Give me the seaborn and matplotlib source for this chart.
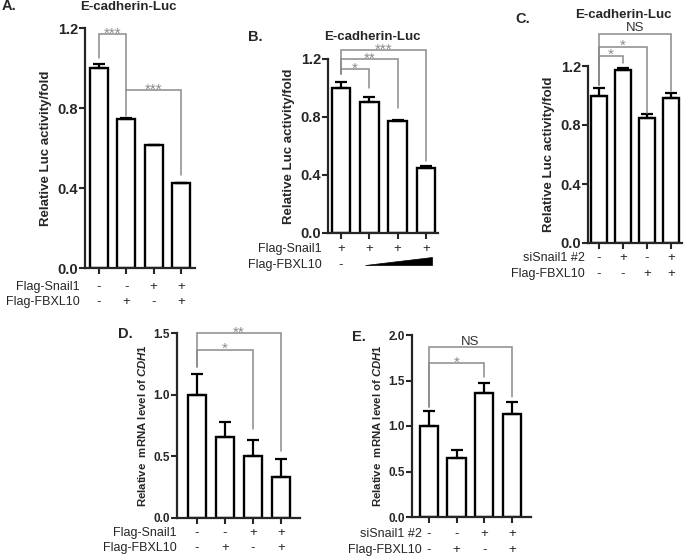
import numpy as np
import pandas as pd
import matplotlib
matplotlib.use('Agg')
import matplotlib.pyplot as plt
import matplotlib.transforms as mtransforms
from matplotlib.patches import Polygon
from matplotlib.ticker import FormatStrFormatter
import seaborn as sns

# ── Data ──────────────────────────────────────────
groups = ['g1', 'g2', 'g3', 'g4']

a_vals = [1.00, 0.745, 0.615, 0.425]
a_err = [0.02, 0.004, 0.002, 0.002]
b_vals = [1.00, 0.905, 0.77, 0.445]
b_err = [0.04, 0.035, 0.01, 0.02]
c_vals = [1.00, 1.175, 0.85, 0.98]
c_err = [0.05, 0.01, 0.025, 0.04]
d_vals = [1.00, 0.655, 0.50, 0.33]
d_err = [0.165, 0.12, 0.135, 0.145]
e_vals = [1.00, 0.645, 1.36, 1.13]
e_err = [0.165, 0.095, 0.115, 0.135]

a_rows = [('Flag-Snail1', ['-', '-', '+', '+']), ('Flag-FBXL10', ['-', '+', '-', '+'])]
b_rows = [('Flag-Snail1', ['+', '+', '+', '+']), ('Flag-FBXL10', ['-', '', '', ''])]
c_rows = [('siSnail1 #2', ['-', '+', '-', '+']), ('Flag-FBXL10', ['-', '-', '+', '+'])]
d_rows = [('Flag-Snail1', ['-', '-', '+', '+']), ('Flag-FBXL10', ['-', '+', '-', '+'])]
e_rows = [('siSnail1 #2', ['-', '-', '+', '+']), ('Flag-FBXL10', ['-', '+', '-', '+'])]

# brackets: (x_left, x_right, y_top, y_left_end, y_right_end, label)
a_sig = [(0, 1, 1.17, 1.05, 0.76, '***'), (1, 3, 0.89, 0.89, 0.465, '***')]
b_sig = [(0, 1, 1.131, 1.10, 1.00, '*'), (0, 2, 1.20, 1.10, 0.862, '**'),
         (0, 3, 1.26, 1.10, 0.494, '***')]
c_sig = [(0, 1, 1.268, 1.07, 1.218, '*'), (0, 2, 1.331, 1.07, 0.88, '*'),
         (0, 3, 1.417, 1.07, 1.03, 'NS')]
d_sig = [(0, 2, 1.365, 1.225, 0.72, '*'), (0, 3, 1.50, 1.225, 0.54, '**')]
e_sig = [(0, 2, 1.688, 1.21, 1.54, '*'), (0, 3, 1.864, 1.21, 1.32, 'NS')]

sns.set_style('ticks')
plt.rcParams['font.family'] = ['Liberation Sans', 'DejaVu Sans']
plt.rcParams['mathtext.fontset'] = 'custom'
plt.rcParams['mathtext.it'] = 'Liberation Sans:italic:bold'
plt.rcParams['mathtext.rm'] = 'Liberation Sans:bold'

W, H = 685, 557
fig = plt.figure(figsize=(W / 100, H / 100), dpi=100)
GRAY = '#8a8a8a'


def px_rect(x0, y0, x1, y1):
    return [x0 / W, 1 - y1 / H, (x1 - x0) / W, (y1 - y0) / H]


def panel(rect, vals, errs, ylim, ystep, ylabel, tfs, lfs, xlim, rows, row_dy, lab_dx, sig):
    ax = fig.add_axes(px_rect(*rect))
    df = pd.DataFrame({'group': groups, 'value': vals})
    sns.barplot(data=df, x='group', y='value', ax=ax, color='white',
                edgecolor='black', linewidth=1.7, width=0.66, errorbar=None,
                saturation=1)
    ax.errorbar(range(4), vals, yerr=[np.zeros(4), errs], fmt='none',
                ecolor='black', elinewidth=1.6, capsize=4.2, capthick=1.6)
    ax.set_xlim(*xlim)
    ax.set_ylim(*ylim)
    ax.set_yticks(np.arange(ylim[0], ylim[1] + 1e-6, ystep))
    ax.yaxis.set_major_formatter(FormatStrFormatter('%.1f'))
    ax.set_xticks(range(4))
    ax.set_xticklabels([])
    ax.set_xlabel('')
    ax.set_ylabel(ylabel, fontsize=lfs, fontweight='bold', labelpad=4)
    sns.despine(ax=ax)
    for s in ['left', 'bottom']:
        ax.spines[s].set_linewidth(1.6)
    ax.tick_params(width=1.5, length=4, labelsize=tfs, direction='out', pad=1)
    for lab in ax.get_yticklabels():
        lab.set_fontweight('bold')

    # +/- rows beneath the axis
    for (name, signs), dy in zip(rows, row_dy):
        off = mtransforms.ScaledTranslation(lab_dx / 100, -dy / 100, fig.dpi_scale_trans)
        ax.text(0, 0, name, transform=ax.transAxes + off, ha='right',
                va='center', fontsize=9)
        off2 = mtransforms.ScaledTranslation(0, -dy / 100, fig.dpi_scale_trans)
        for i, s in enumerate(signs):
            if s:
                ax.text(i, 0, s, transform=ax.get_xaxis_transform() + off2,
                        ha='center', va='center', fontsize=9.5)

    # significance brackets
    for x1, x2, yh, yl, yr, txt in sig:
        ax.plot([x1, x1, x2, x2], [yl, yh, yh, yr], color=GRAY, lw=1.1,
                clip_on=False, solid_joinstyle='miter')
        if txt == 'NS':
            ax.annotate(txt, ((x1 + x2) / 2, yh), xytext=(0, 4),
                        textcoords='offset points', ha='center', va='center',
                        fontsize=9.5, color='#333333', annotation_clip=False)
        else:
            ax.annotate(txt, ((x1 + x2) / 2, yh), xytext=(0, 0.5),
                        textcoords='offset points', ha='center', va='center',
                        fontsize=11, color=GRAY, annotation_clip=False)
    return ax


luc_label = 'Relative Luc activity/fold'
mrna_label = 'Relative  mRNA level of $\\it{CDH1}$'

ax_a = panel((85, 28, 195, 268), a_vals, a_err, (0, 1.2), 0.4, luc_label, 10.5, 9.5,
             (-0.51, 3.51), a_rows, (19, 34), -5, a_sig)
ax_b = panel((328, 59, 438, 233), b_vals, b_err, (0, 1.2), 0.4, luc_label, 10.5, 9.5,
             (-0.46, 3.42), b_rows, (16, 32), -6, b_sig)
ax_c = panel((588, 66, 682, 243), c_vals, c_err, (0, 1.2), 0.4, luc_label, 10.5, 9.5,
             (-0.46, 3.46), c_rows, (15, 31), -3, c_sig)
ax_d = panel((177, 333, 300, 518), d_vals, d_err, (0, 1.5), 0.5, mrna_label, 8.5, 8.2,
             (-0.71, 3.68), d_rows, (15, 30), 0, d_sig)
ax_e = panel((412, 335, 531, 517), e_vals, e_err, (0, 2.0), 0.5, mrna_label, 8.5, 8.2,
             (-0.61, 3.69), e_rows, (17, 33), 10, e_sig)

# increasing-dose wedge for Flag-FBXL10 in panel B
wedge = Polygon([(0.85, -0.184), (3.22, -0.184), (3.22, -0.138)], closed=True,
                facecolor='black', edgecolor='black', lw=0.5,
                transform=ax_b.get_xaxis_transform(), clip_on=False)
ax_b.add_patch(wedge)

# titles and panel letters
for x, y, t in [(128, 7, 'E-cadherin-Luc'), (372, 37, 'E-cadherin-Luc'),
                (623, 15, 'E-cadherin-Luc')]:
    fig.text(x / W, 1 - y / H, t, ha='center', va='center', fontsize=9.5,
             fontweight='bold')
for x, y, t in [(2, 6, 'A.'), (248, 37, 'B.'), (515, 19, 'C.'),
                (118, 334, 'D.'), (352, 337, 'E.')]:
    fig.text(x / W, 1 - y / H, t, ha='left', va='center', fontsize=10.5,
             fontweight='bold')

plt.savefig('out.png', dpi=100)
